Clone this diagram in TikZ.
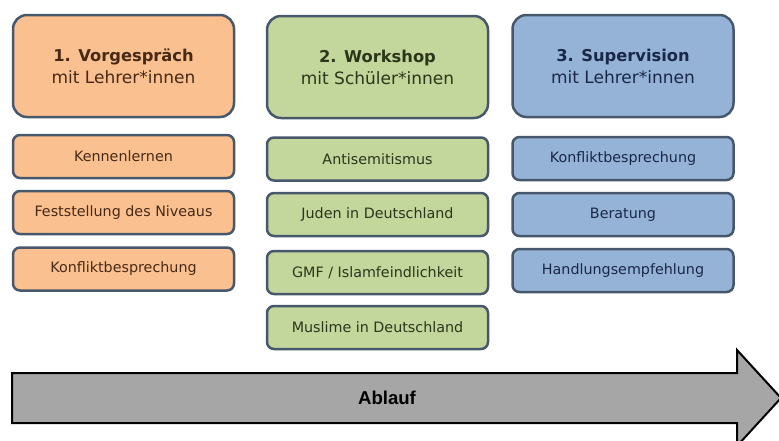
\documentclass[tikz,border=0pt]{standalone}
\usepackage{fontspec}
\setmainfont{DejaVu Sans}
\newfontfamily\ablauffont{Liberation Sans}
\usepackage{tikz}
\usepackage{xcolor}
\definecolor{vorgespraechorange}{RGB}{250,192,143}
\definecolor{workshopgreen}{RGB}{195,214,155}
\definecolor{supervisionblue}{RGB}{149,179,215}
\definecolor{boxborder}{RGB}{72,88,108}
\definecolor{orangetext}{RGB}{70,42,22}
\definecolor{greentext}{RGB}{44,54,26}
\definecolor{bluetext}{RGB}{26,40,72}
\definecolor{ablaufgray}{RGB}{166,166,166}

\begin{document}
\begin{tikzpicture}[x=1pt, y=-1pt,
            phasebox/.style={draw=boxborder, line width=2.5pt, rounded corners=14pt, minimum width=221pt, minimum height=102pt, align=center, font=\fontsize{17}{22}\selectfont},
            topicbox/.style={draw=boxborder, line width=2.5pt, rounded corners=7pt, minimum width=221pt, minimum height=43pt, font=\fontsize{14.3}{16}\selectfont}]
            \useasboundingbox (0,0) rectangle (779,440);

            % Vorgespraech column
            \node[phasebox, fill=vorgespraechorange, text=orangetext] (vorgespraech) at (123.5,66) {{\fontsize{16.3}{22}\selectfont\bfseries 1. Vorgespräch}\\mit Lehrer*innen};
            \node[topicbox, fill=vorgespraechorange, text=orangetext] (kennenlernen) at (123.5,156.5) {Kennenlernen};
            \node[topicbox, fill=vorgespraechorange, text=orangetext] (niveau) at (123.5,212.5) {Feststellung des Niveaus};
            \node[topicbox, fill=vorgespraechorange, text=orangetext] (konflikt1) at (123.5,269) {Konfliktbesprechung};

            % Workshop column
            \node[phasebox, fill=workshopgreen, text=greentext] (workshop) at (377.5,67) {{\fontsize{16.3}{22}\selectfont\bfseries 2. Workshop}\\mit Schüler*innen};
            \node[topicbox, fill=workshopgreen, text=greentext] (antisemitismus) at (377.5,159) {Antisemitismus};
            \node[topicbox, fill=workshopgreen, text=greentext] (juden) at (377.5,214.5) {Juden in Deutschland};
            \node[topicbox, fill=workshopgreen, text=greentext] (gmf) at (377.5,272.5) {GMF / Islamfeindlichkeit};
            \node[topicbox, fill=workshopgreen, text=greentext] (muslime) at (377.5,327.5) {Muslime in Deutschland};

            % Supervision column
            \node[phasebox, fill=supervisionblue, text=bluetext] (supervision) at (623,66) {{\fontsize{16.3}{22}\selectfont\bfseries 3. Supervision}\\mit Lehrer*innen};
            \node[topicbox, fill=supervisionblue, text=bluetext] (konflikt3) at (623,158.5) {Konfliktbesprechung};
            \node[topicbox, fill=supervisionblue, text=bluetext] (beratung) at (623,214.5) {Beratung};
            \node[topicbox, fill=supervisionblue, text=bluetext] (handlung) at (623,270.5) {Handlungsempfehlung};

            % Ablauf arrow
            \draw[fill=ablaufgray, line width=2pt, line join=miter] (12,373) -- (737,373) -- (737,350) -- (781,398) -- (737,446) -- (737,423) -- (12,423) -- cycle;
            \node[font=\ablauffont\bfseries\fontsize{18.6}{22}\selectfont] (ablauf) at (387,398) {Ablauf};
        \end{tikzpicture}
\end{document}
